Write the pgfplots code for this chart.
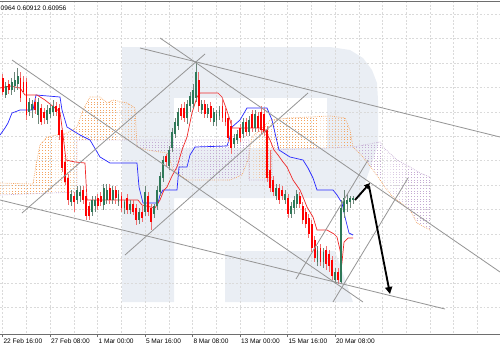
\documentclass[border=0pt]{standalone}
\usepackage{fontspec}
\setmainfont{Liberation Sans}
\usepackage{pgfplots}
\usepackage{pgfplotstable}
\pgfplotsset{compat=1.18}
\usepgfplotslibrary{fillbetween}
\usetikzlibrary{patterns,arrows.meta,calc}

\definecolor{bull}{RGB}{46,120,88}
\definecolor{bullwick}{RGB}{110,135,122}
\definecolor{bear}{RGB}{255,0,0}
\definecolor{bearwick}{RGB}{240,110,110}
\definecolor{kijun}{RGB}{40,40,255}
\definecolor{tenkan}{RGB}{240,40,40}
\definecolor{spanA}{RGB}{244,164,96}
\definecolor{spanB}{RGB}{196,170,210}
\definecolor{logo}{RGB}{234,238,244}
\definecolor{gridc}{RGB}{218,218,218}
\definecolor{trend}{RGB}{150,150,150}
\definecolor{axisc}{RGB}{110,110,110}

\pgfdeclarepatternformonly{cloud dots}{\pgfqpoint{-0.5pt}{-0.5pt}}{\pgfqpoint{0.5pt}{0.5pt}}{\pgfqpoint{2.6pt}{2.3pt}}{%
  \pgfpathrectangle{\pgfqpoint{-0.25pt}{-0.4pt}}{\pgfqpoint{0.5pt}{0.8pt}}\pgfusepath{fill}}

% candles: x, open, high, low, close (vertical values read in pixels from the top)
\pgfplotstableread{
x o h l c
5.7 95 82 98 86
11.6 90 78 95 82
14.6 86 72 92 80
17.6 84 68 90 76
29.4 112 98 116 102
32.4 110 100 118 104
38.3 115 98 124 102
47.3 120 105 124 110
50.2 114 104 118 108
53.2 112 100 116 106
71.0 202 190 206 194
77.0 200 186 204 190
79.9 196 186 202 192
91.8 212 196 216 200
94.8 206 196 212 200
103.7 205 184 210 188
106.7 200 184 204 190
112.6 200 186 204 190
118.5 202 190 206 194
124.5 208 200 214 202
130.4 210 200 214 204
139.3 220 208 224 212
145.3 212 186 216 192
154.2 214 204 218 206
157.1 206 186 210 190
160.1 192 172 196 176
163.1 178 156 182 160
169.0 166 146 170 150
172.0 148 128 152 132
175.0 134 118 138 122
177.9 126 108 130 112
186.8 118 100 124 104
189.8 106 92 112 96
192.8 104 84 108 90
195.8 98 62 102 72
201.7 110 100 114 104
207.6 114 104 118 108
213.6 122 108 126 112
216.5 120 110 126 114
219.5 116 106 120 110
234.4 144 134 148 138
237.3 140 130 144 134
243.3 134 118 138 122
249.2 132 116 136 120
255.2 128 110 132 114
275.9 196 184 200 188
284.9 200 190 204 194
290.8 214 202 218 206
293.8 208 196 214 200
296.7 204 190 208 194
317.5 262 246 266 250
323.5 262 248 268 252
335.3 280 268 284 272
341.3 282 200 284 208
344.3 212 190 218 198
347.2 204 194 212 200
350.2 202 196 208 198
353.2 200 196 204 198
}\bull

\pgfplotstableread{
x o h l c
2.7 78 74 95 92
8.6 84 80 94 90
20.5 78 72 102 98
23.5 82 76 94 92
26.5 82 78 120 115
35.4 102 98 114 110
41.3 108 104 125 122
44.3 112 108 124 118
56.2 106 102 116 112
59.1 108 104 140 135
62.1 130 128 172 168
65.1 162 158 185 182
68.0 178 174 205 200
74.0 196 192 212 202
82.9 190 186 204 200
85.9 196 192 220 216
88.8 206 202 220 216
97.7 198 194 210 206
100.7 196 192 206 202
109.6 188 184 204 200
115.6 190 186 204 198
121.5 196 192 212 208
127.4 198 194 214 210
133.4 204 200 215 212
136.4 208 204 225 220
142.3 212 206 222 218
148.2 196 192 216 212
151.2 208 204 230 222
166.1 156 154 166 162
180.9 108 104 120 116
183.9 108 102 122 118
198.7 80 72 112 106
204.7 104 100 118 114
210.6 106 102 122 118
222.5 106 98 122 118
225.5 112 108 126 122
228.4 118 114 142 138
231.4 126 120 154 148
240.3 128 124 142 138
246.2 122 118 136 132
252.2 114 110 132 128
258.1 116 112 132 128
261.1 112 106 134 130
264.1 114 108 136 132
267.0 130 126 182 178
270.0 170 150 192 188
273.0 180 176 196 192
278.9 188 184 204 200
281.9 190 186 200 196
287.8 198 194 218 214
299.7 196 192 208 204
302.7 206 202 224 220
305.6 212 208 228 224
308.6 218 214 238 234
311.6 224 220 252 248
314.6 240 236 262 258
320.5 248 244 266 262
326.4 250 246 270 264
329.4 254 250 272 266
332.4 260 256 280 276
338.3 272 268 284 280
}\bear

\pgfplotstableread{
x y
0 88
10 86
20 88
25 95
37 95
45 100
55 108
60 112
63 135
66 160
75 162
85 163
87 200
138 200
142 205
155 208
160 200
164 190
167 187
172 176
177 167
182 150
187 137
192 113
197 97
200 93
218 93
222 97
226 108
230 120
232 128
260 128
266 132
270 140
274 150
278 155
283 162
287 167
293 180
300 190
303 197
307 207
313 217
317 230
327 230
334 234
337 237
340 250
342 262
344 242
348 238
353 238
}\tenkan

\pgfplotstableread{
x y
0 135
5 128
8 123
12 113
20 110
33 110
36 95
60 97
62 110
67 127
80 135
90 140
100 157
110 163
137 163
139 187
143 203
158 203
160 195
163 190
177 190
179 167
187 167
190 155
195 147
227 146
230 137
232 127
240 120
247 108
267 108
272 120
275 133
279 150
290 157
303 160
308 168
313 178
317 190
333 190
337 195
342 203
345 217
349 233
353 235
}\kijun

\pgfplotstableread{
x y
0 183
33 184
36 165
40 145
47 137
67 133
77 127
83 110
90 97
100 97
107 103
113 100
127 103
135 108
137 147
147 150
167 153
170 160
173 170
187 180
230 180
242 175
248 160
252 137
260 130
270 120
290 118
330 116
345 118
350 130
353 147
363 157
373 170
380 180
387 190
393 197
410 210
417 223
430 230
}\spanAtab

\pgfplotstableread{
x y
0 195
77 192
77 140
249 140
249 180
272 180
272 150
353 147
380 142
383 147
397 160
410 167
420 173
430 177
}\spanBtab

\begin{document}
\begin{tikzpicture}
\begin{axis}[
  set layers,
  width=15cm, height=9.99cm, scale only axis,
  xmin=0, xmax=500, ymin=1, ymax=334,
  y dir=reverse,
  clip=true,
  separate axis lines,
  x axis line style={draw=axisc, line width=0.8pt},
  y axis line style={draw=none},
  xtick={2.7,50.2,97.7,145.1,192.6,240.1,287.6,335.1},
  xticklabels={22 Feb 16:00,27 Feb 08:00,1 Mar 00:00,5 Mar 16:00,8 Mar 08:00,13 Mar 00:00,15 Mar 16:00,20 Mar 08:00},
  minor xtick={26.4,73.9,121.4,168.9,216.4,263.9,311.3,358.8,382.5,406.3,430.0,453.7,477.4},
  ytick={14,38.4,62.9,87.3,111.8,136.2,160.6,185.1,209.5,234,258.4,282.8,307.3},
  yticklabels={},
  ytick style={draw=none},
  xtick pos=lower, xticklabel pos=lower,
  tick align=outside,
  major tick length=0.09cm, minor tick length=0pt,
  xtick style={draw=axisc, line width=0.5pt},
  xmajorgrids, xminorgrids, ymajorgrids,
  major grid style={draw=gridc, line width=0.4pt, dash pattern=on 1.6pt off 1.6pt},
  minor grid style={draw=gridc, line width=0.4pt, dash pattern=on 1.6pt off 1.6pt},
  xticklabel style={font=\fontsize{5.6}{6.7}\selectfont, anchor=north west, inner sep=0pt, xshift=0.02cm, yshift=-0.05cm},
]
% watermark logo
\addplot[on layer=axis background, fill=logo, draw=none, forget plot] coordinates {
 (122,47) (330,47) (350,50) (363,58) (372,70) (377,83) (378,100) (378,145) (360,198) (174,198) (174,302) (122,302)} -- cycle;
\addplot[on layer=axis background, fill=white, draw=none, forget plot] coordinates {
 (174,98) (327,98) (327,148) (174,148)} -- cycle;
\addplot[on layer=axis background, fill=logo, draw=none, forget plot] coordinates {
 (225,251) (335,251) (353,302) (225,302)} -- cycle;

% ichimoku cloud
\addplot[name path=A, spanA, densely dotted, line width=0.6pt, forget plot] table {\spanAtab};
\addplot[name path=B, spanB, densely dotted, line width=0.6pt, forget plot] table {\spanBtab};
\addplot[pattern=cloud dots, pattern color=spanA, draw=none, forget plot] fill between[of=A and B, soft clip={domain=0:136.5}];
\addplot[pattern=cloud dots, pattern color=spanB, draw=none, forget plot] fill between[of=A and B, soft clip={domain=136.5:249.5}];
\addplot[pattern=cloud dots, pattern color=spanA, draw=none, forget plot] fill between[of=A and B, soft clip={domain=249.5:353}];
\addplot[pattern=cloud dots, pattern color=spanB, draw=none, forget plot] fill between[of=A and B, soft clip={domain=353:430}];

% kijun and tenkan
\addplot[kijun, line width=0.6pt, forget plot] table {\kijun};
\addplot[tenkan, line width=0.6pt, forget plot] table {\tenkan};

% candle wicks
\addplot[forget plot, draw=none, mark=none,
  error bars/.cd, y dir=both, y explicit, error mark=none,
  error bar style={line width=0.5pt, draw=bullwick}]
  table[x=x, y expr={(\thisrow{h}+\thisrow{l})/2}, y error expr={(\thisrow{l}-\thisrow{h})/2}] {\bull};
\addplot[forget plot, draw=none, mark=none,
  error bars/.cd, y dir=both, y explicit, error mark=none,
  error bar style={line width=0.5pt, draw=bearwick}]
  table[x=x, y expr={(\thisrow{h}+\thisrow{l})/2}, y error expr={(\thisrow{l}-\thisrow{h})/2}] {\bear};
% candle bodies
\addplot[forget plot, draw=none, mark=none,
  error bars/.cd, y dir=both, y explicit, error mark=none,
  error bar style={line width=1.6pt, draw=bull}]
  table[x=x, y expr={(\thisrow{o}+\thisrow{c})/2}, y error expr={abs(\thisrow{o}-\thisrow{c})/2}] {\bull};
\addplot[forget plot, draw=none, mark=none,
  error bars/.cd, y dir=both, y explicit, error mark=none,
  error bar style={line width=1.6pt, draw=bear}]
  table[x=x, y expr={(\thisrow{o}+\thisrow{c})/2}, y error expr={abs(\thisrow{o}-\thisrow{c})/2}] {\bear};

% trend lines
\addplot[trend, line width=0.7pt] coordinates {(12,60) (363,302)};
\addplot[trend, line width=0.7pt] coordinates {(0,200) (445,309)};
\addplot[trend, line width=0.7pt] coordinates {(140,48) (500,137)};
\addplot[trend, line width=0.7pt] coordinates {(160,38) (500,272)};
\addplot[trend, line width=0.7pt] coordinates {(22,213) (205,54)};
\addplot[trend, line width=0.7pt] coordinates {(125,255) (308,93)};
\addplot[trend, line width=0.7pt] coordinates {(296,279) (368,160)};
\addplot[trend, line width=0.7pt] coordinates {(333,302) (408,178)};

% arrows
\addplot[black, line width=1.6pt, -{Triangle[length=5pt,width=5pt]}] coordinates {(355,200) (370,183)};
\addplot[black, line width=1.6pt, -{Triangle[length=6pt,width=6pt]}] coordinates {(369,186) (390,294)};

\node[anchor=base west, inner sep=0pt, font=\fontsize{5.6}{6.7}\selectfont] at (axis cs:0.5,10) {0964 0.60912 0.60956};

\coordinate (bl) at (axis cs:0,334);
\coordinate (tr) at (axis cs:500,1);
\end{axis}
\pgfresetboundingbox
\path ($(bl)+(0,-0.48cm)$) rectangle ($(tr)+(0,0.03cm)$);
\end{tikzpicture}
\end{document}
